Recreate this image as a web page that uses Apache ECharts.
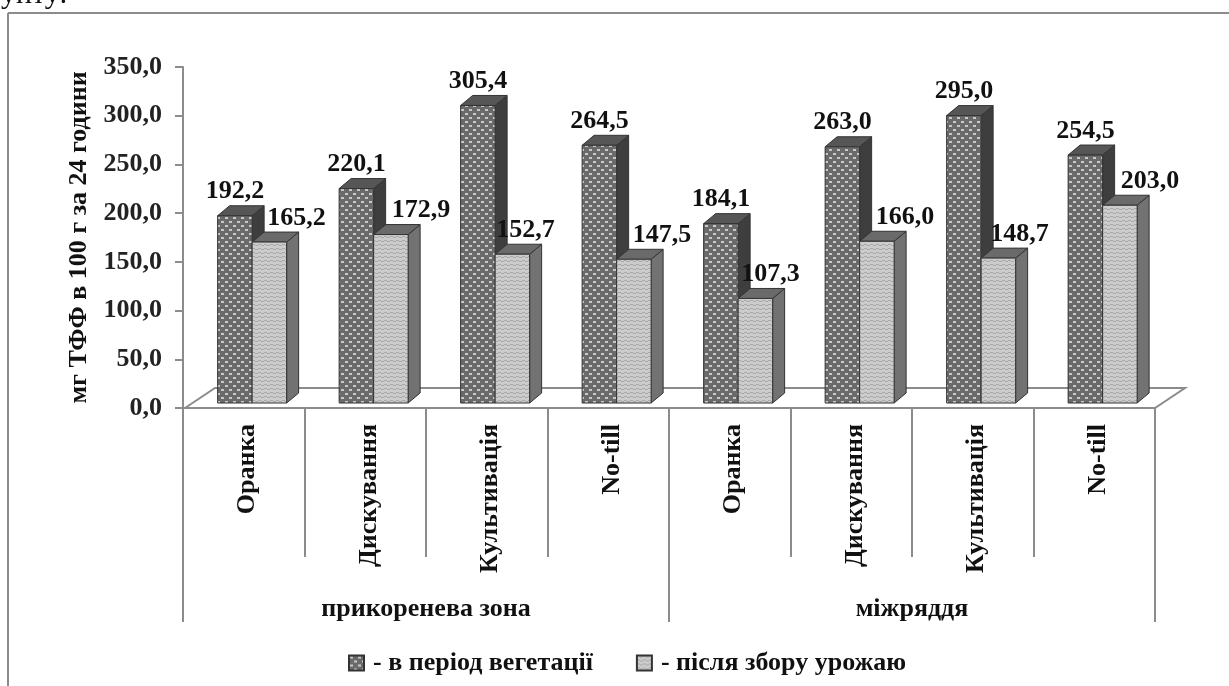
<!DOCTYPE html>
<html>
<head>
<meta charset="utf-8">
<style>
html,body{margin:0;padding:0;background:#fff;}
#main{width:1229px;height:686px;}
</style>
<script src="https://cdn.jsdelivr.net/npm/echarts@6/dist/echarts.min.js"></script>
</head>
<body>
<div id="main"></div>
<script>
var categories = ['Оранка','Дискування','Культивація','No-till','Оранка','Дискування','Культивація','No-till'];
var zones = ['прикоренева зона','міжряддя'];
var vegetation = [192.2,220.1,305.4,264.5,184.1,263.0,295.0,254.5];
var harvest = [165.2,172.9,152.7,147.5,107.3,166.0,148.7,203.0];
var seriesNames = ['- в період вегетації','- після збору урожаю'];
// how far the second bar's label sits to the right of its bar
var harvestLabelShift = [27,30,13,28,15,28,21,30];

var serif = '"Liberation Serif"';
var axisGray = '#8c8c8c';
var inkColor = '#111';

function comma(v){
	return v.toFixed(1).replace('.',',');
}
function dotPattern(){
	var c = document.createElement('canvas');
	c.width = 8; c.height = 8;
	var ctx = c.getContext('2d');
	ctx.fillStyle = '#6a6a6a';
	ctx.fillRect(0,0,8,8);
	ctx.fillStyle = '#c8c8c8';
	ctx.fillRect(1,1,3,2);
	ctx.fillRect(5,5,3,2);
	return {image:c,repeat:'repeat'};
}
function wavePattern(){
	var c = document.createElement('canvas');
	c.width = 6; c.height = 4;
	var ctx = c.getContext('2d');
	ctx.fillStyle = '#cccccc';
	ctx.fillRect(0,0,6,4);
	ctx.fillStyle = '#a8a8a8';
	ctx.fillRect(0,0,3,1);
	ctx.fillRect(3,1,3,1);
	return {image:c,repeat:'repeat'};
}
var fills = [dotPattern(),wavePattern()];
var topColors = ['#565656','#6a6a6a'];
var sideColors = ['#3e3e3e','#727272'];

function bar3d(which){
	return function(params,api){
		var i = api.value(0);
		var val = api.value(1);
		var band = api.size([1,0])[0];
		var p = api.coord([i,val]);
		var base = api.coord([i,0]);
		var w = band*0.284;
		var x = p[0]-band/2+band*0.285+which*w;
		var y = p[1]-5;
		var h = base[1]-p[1];
		var dx = 12, dy = -10;
		var line = {stroke:'#333',lineWidth:1};
		var lx = x+w/2+(which ? harvestLabelShift[i] : 0);
		return {
			type:'group',
			children:[
				{type:'polygon',shape:{points:[[x+w,y],[x+w+dx,y+dy],[x+w+dx,y+dy+h],[x+w,y+h]]},
					style:Object.assign({fill:sideColors[which]},line)},
				{type:'polygon',shape:{points:[[x,y],[x+dx,y+dy],[x+w+dx,y+dy],[x+w,y]]},
					style:Object.assign({fill:topColors[which]},line)},
				{type:'rect',shape:{x:x,y:y,width:w,height:h},
					style:Object.assign({fill:fills[which]},line)},
				{type:'text',z2:50,style:{text:comma(val),x:lx,y:y+dy-14,align:'center',verticalAlign:'middle',
					fontFamily:serif,fontWeight:'bold',fontSize:26,fill:inkColor}}
			]
		};
	};
}
function floor(params,api){
	var s = params.coordSys;
	var b = s.y+s.height;
	var d = 30, up = 20;
	return {
		type:'polygon',
		shape:{points:[[s.x+2,b],[s.x+2+d,b-up],[s.x+s.width+30,b-up],[s.x+s.width,b]]},
		style:{fill:'#fff',stroke:axisGray,lineWidth:2}
	};
}
function series(which,values){
	return {
		type:'custom',
		name:seriesNames[which],
		xAxisIndex:0,
		yAxisIndex:0,
		z:3+which,
		clip:false,
		itemStyle:{color:fills[which],borderColor:'#333',borderWidth:1},
		renderItem:bar3d(which),
		encode:{x:0,y:1},
		data:values.map(function(v,i){return [i,v];})
	};
}

var chart = echarts.init(document.getElementById('main'));
chart.setOption({
	animation:false,
	backgroundColor:'#fff',
	textStyle:{fontFamily:serif},
	grid:{left:183,right:74,top:67,bottom:278},
	legend:{
		left:343,
		top:645,
		itemWidth:15,
		itemHeight:15,
		itemGap:43,
		icon:'rect',
		data:seriesNames,
		textStyle:{fontFamily:serif,fontWeight:'bold',fontSize:26,color:inkColor,padding:[0,0,0,4]}
	},
	xAxis:[
		{
			type:'category',
			data:categories,
			position:'bottom',
			axisLine:{show:true,lineStyle:{color:axisGray,width:2}},
			axisTick:{show:true,length:149,lineStyle:{color:axisGray,width:2}},
			axisLabel:{
				interval:0,rotate:90,margin:16,
				formatter:function(v){return '{cat|'+v+'}';},
				rich:{cat:{padding:[8,0,0,0],fontFamily:serif,fontWeight:'bold',fontSize:26,color:inkColor}}
			}
		},
		{
			type:'category',
			data:zones,
			position:'bottom',
			axisLine:{show:false},
			axisTick:{show:true,length:214,lineStyle:{color:axisGray,width:2}},
			axisLabel:{interval:0,margin:188,fontFamily:serif,fontWeight:'bold',fontSize:26,color:inkColor}
		}
	],
	yAxis:{
		type:'value',
		min:0,
		max:350,
		interval:50,
		name:'мг ТФФ в 100 г за 24 години',
		nameLocation:'middle',
		nameGap:90,
		nameTextStyle:{fontFamily:serif,fontWeight:'bold',fontSize:26,color:inkColor},
		splitLine:{show:false},
		axisLine:{show:true,lineStyle:{color:axisGray,width:2}},
		axisTick:{show:true,length:8,lineStyle:{color:axisGray,width:2}},
		axisLabel:{margin:21,fontFamily:serif,fontWeight:'bold',fontSize:26,color:'#222',formatter:comma}
	},
	graphic:[
		{type:'text',left:1,top:-20,style:{text:'унту:',fontFamily:serif,fontSize:30,fill:inkColor}},
		{type:'line',shape:{x1:8,y1:13,x2:1229,y2:13},style:{stroke:axisGray,lineWidth:2}},
		{type:'line',shape:{x1:8,y1:13,x2:8,y2:686},style:{stroke:axisGray,lineWidth:2}}
	],
	series:[
		{type:'custom',silent:true,z:1,clip:false,renderItem:floor,data:[[0,0]],encode:{x:0,y:1}},
		series(0,vegetation),
		series(1,harvest)
	]
});
</script>
</body>
</html>
